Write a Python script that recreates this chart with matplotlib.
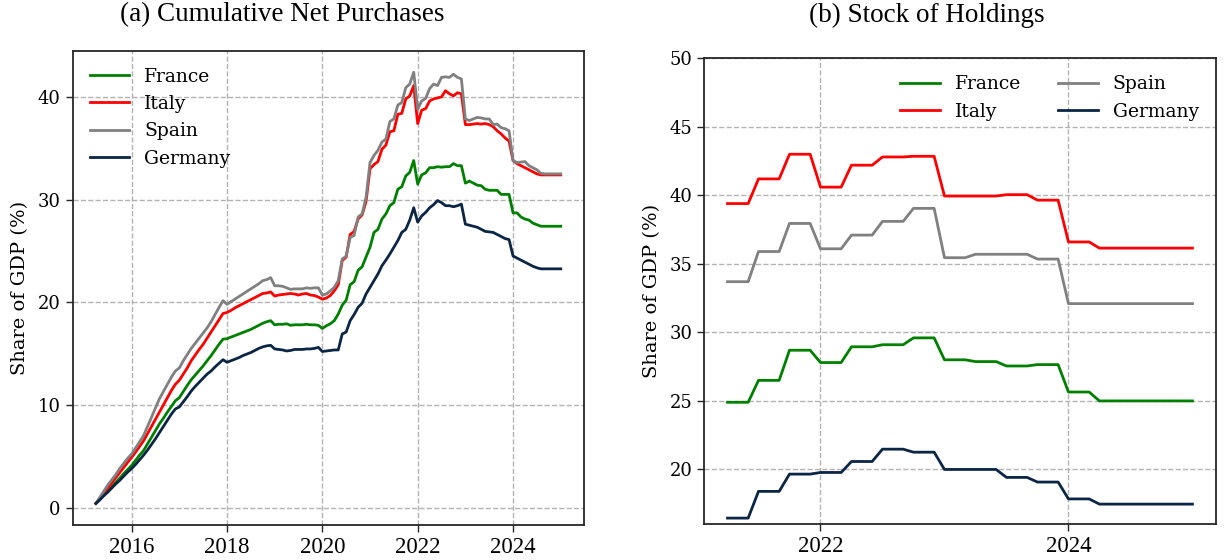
import numpy as np
import matplotlib
matplotlib.use("Agg")
import matplotlib.pyplot as plt

plt.rcParams["font.family"] = ["DejaVu Serif"]

# ---------------- Panel (a): cumulative net purchases, monthly ----------------
months_a_start = 2015.25          # first monthly observation (decimal year)
n_months_a = 118

france_a = [0.4, 0.8, 1.2, 1.6, 2.0, 2.45, 2.85, 3.3, 3.7, 4.1,
            4.6, 5.1, 5.55, 6.2, 6.85, 7.5, 8.15, 8.7, 9.3, 9.85,
            10.4, 10.7, 11.3, 11.9, 12.45, 12.9, 13.35, 13.8, 14.3, 14.8,
            15.35, 15.9, 16.4, 16.45, 16.6, 16.75, 16.9, 17.05, 17.2, 17.35,
            17.55, 17.75, 17.95, 18.1, 18.2, 17.8, 17.85, 17.85, 17.9, 17.75,
            17.8, 17.8, 17.8, 17.85, 17.8, 17.8, 17.75, 17.45, 17.7, 17.9,
            18.2, 18.85, 19.7, 20.2, 21.7, 22.0, 23.1, 23.45, 24.4, 25.35,
            26.8, 27.1, 28.1, 28.6, 29.4, 29.7, 31.0, 31.25, 32.3, 32.65,
            33.8, 31.5, 32.4, 32.6, 33.1, 33.1, 33.2, 33.15, 33.2, 33.2,
            33.5, 33.3, 33.3, 31.6, 31.8, 31.6, 31.4, 31.35, 31.0, 30.9,
            30.9, 30.9, 30.5, 30.5, 30.5, 28.7, 28.7, 28.3, 28.1, 28.0,
            27.7, 27.55, 27.4, 27.4, 27.4, 27.4, 27.4, 27.4]

italy_a = [0.4, 0.9, 1.4, 1.9, 2.4, 2.9, 3.4, 3.9, 4.4, 4.9,
           5.4, 5.95, 6.5, 7.2, 7.9, 8.6, 9.3, 10.0, 10.7, 11.4,
           12.0, 12.4, 13.0, 13.6, 14.3, 14.85, 15.4, 15.9, 16.5, 17.1,
           17.7, 18.3, 18.9, 19.0, 19.2, 19.45, 19.65, 19.85, 20.05, 20.25,
           20.45, 20.65, 20.85, 20.9, 21.0, 20.6, 20.7, 20.75, 20.8, 20.85,
           20.8, 20.7, 20.8, 20.85, 20.7, 20.65, 20.5, 20.3, 20.4, 20.65,
           21.1, 21.7, 24.05, 24.4, 26.6, 26.9, 28.1, 28.5, 29.8, 33.0,
           33.4, 33.7, 34.9, 35.3, 36.6, 36.7, 38.3, 38.4, 39.8, 40.1,
           41.1, 37.4, 38.7, 38.85, 39.6, 39.8, 39.9, 40.0, 40.6, 40.3,
           40.1, 40.4, 40.3, 37.3, 37.3, 37.35, 37.4, 37.35, 37.4, 37.3,
           37.1, 36.7, 36.4, 36.0, 35.7, 33.8, 33.5, 33.3, 33.1, 32.9,
           32.7, 32.5, 32.4, 32.4, 32.4, 32.4, 32.4, 32.4]

spain_a = [0.4, 1.0, 1.6, 2.2, 2.7, 3.2, 3.8, 4.3, 4.8, 5.2,
           5.8, 6.4, 7.0, 7.9, 8.8, 9.7, 10.6, 11.3, 12.0, 12.7,
           13.3, 13.6, 14.3, 14.9, 15.5, 16.0, 16.5, 17.0, 17.5, 18.1,
           18.8, 19.5, 20.15, 19.8, 20.05, 20.3, 20.55, 20.8, 21.05, 21.3,
           21.55, 21.8, 22.1, 22.2, 22.4, 21.6, 21.6, 21.55, 21.4, 21.25,
           21.3, 21.3, 21.3, 21.4, 21.35, 21.4, 21.4, 20.7, 20.8, 21.1,
           21.45, 22.1, 24.2, 24.5, 26.3, 26.5, 28.3, 28.6, 30.2, 33.6,
           34.3, 34.8, 35.6, 35.9, 37.6, 37.85, 39.2, 39.45, 40.9, 41.25,
           42.4, 38.8, 39.6, 39.85, 40.8, 41.25, 41.1, 41.9, 41.95, 41.9,
           42.2, 41.9, 41.75, 37.85, 37.7, 37.85, 38.0, 37.95, 37.85, 37.85,
           37.3, 37.35, 37.0, 36.9, 36.7, 33.8, 33.6, 33.65, 33.7, 33.3,
           33.1, 32.9, 32.55, 32.5, 32.5, 32.5, 32.5, 32.5]

germany_a = [0.4, 0.75, 1.15, 1.5, 1.9, 2.3, 2.65, 3.05, 3.45, 3.8,
             4.2, 4.65, 5.1, 5.6, 6.15, 6.7, 7.3, 7.9, 8.5, 9.1,
             9.6, 9.8, 10.3, 10.8, 11.35, 11.8, 12.2, 12.6, 13.0, 13.3,
             13.7, 14.05, 14.4, 14.15, 14.3, 14.45, 14.6, 14.8, 14.95, 15.1,
             15.3, 15.5, 15.65, 15.75, 15.8, 15.45, 15.4, 15.35, 15.25, 15.3,
             15.4, 15.4, 15.4, 15.45, 15.45, 15.5, 15.6, 15.2, 15.25, 15.3,
             15.35, 15.35, 16.9, 17.1, 18.2, 18.8, 19.5, 19.9, 20.8, 21.45,
             22.1, 22.75, 23.55, 24.1, 24.7, 25.35, 26.0, 26.8, 27.1, 28.0,
             29.2, 27.8, 28.4, 28.75, 29.2, 29.5, 29.9, 29.7, 29.4, 29.4,
             29.3, 29.4, 29.55, 27.6, 27.5, 27.4, 27.3, 27.1, 26.9, 26.85,
             26.8, 26.6, 26.4, 26.2, 26.1, 24.5, 24.3, 24.1, 23.9, 23.7,
             23.5, 23.35, 23.25, 23.25, 23.25, 23.25, 23.25, 23.25]

# ---------------- Panel (b): stock of holdings, monthly ----------------
months_b_start = 2021.25
n_months_b = 46

france_b = [24.9, 24.9, 24.9, 26.5, 26.5, 26.5, 28.7, 28.7, 28.7, 27.8,
            27.8, 27.8, 28.95, 28.95, 28.95, 29.1, 29.1, 29.1, 29.6, 29.6,
            29.6, 28.0, 28.0, 28.0, 27.87, 27.87, 27.87, 27.55, 27.55, 27.55,
            27.65, 27.65, 27.65, 25.65, 25.65, 25.65, 25.0, 25.0, 25.0, 25.0,
            25.0, 25.0, 25.0, 25.0, 25.0, 25.0]

italy_b = [39.4, 39.4, 39.4, 41.2, 41.2, 41.2, 43.0, 43.0, 43.0, 40.6,
           40.6, 40.6, 42.2, 42.2, 42.2, 42.8, 42.8, 42.8, 42.85, 42.85,
           42.85, 39.95, 39.95, 39.95, 39.95, 39.95, 39.95, 40.05, 40.05, 40.05,
           39.65, 39.65, 39.65, 36.6, 36.6, 36.6, 36.15, 36.15, 36.15, 36.15,
           36.15, 36.15, 36.15, 36.15, 36.15, 36.15]

spain_b = [33.7, 33.7, 33.7, 35.9, 35.9, 35.9, 37.95, 37.95, 37.95, 36.1,
           36.1, 36.1, 37.1, 37.1, 37.1, 38.1, 38.1, 38.1, 39.05, 39.05,
           39.05, 35.45, 35.45, 35.45, 35.7, 35.7, 35.7, 35.7, 35.7, 35.7,
           35.35, 35.35, 35.35, 32.1, 32.1, 32.1, 32.1, 32.1, 32.1, 32.1,
           32.1, 32.1, 32.1, 32.1, 32.1, 32.1]

germany_b = [16.45, 16.45, 16.45, 18.4, 18.4, 18.4, 19.66, 19.66, 19.66, 19.78,
             19.78, 19.78, 20.58, 20.58, 20.58, 21.48, 21.48, 21.48, 21.26, 21.26,
             21.26, 20.0, 20.0, 20.0, 20.0, 20.0, 20.0, 19.42, 19.42, 19.42,
             19.08, 19.08, 19.08, 17.85, 17.85, 17.85, 17.47, 17.47, 17.47, 17.47,
             17.47, 17.47, 17.47, 17.47, 17.47, 17.47]

countries = ["France", "Italy", "Spain", "Germany"]
colors = {"France": "#008000", "Italy": "#ff0000",
          "Spain": "#808080", "Germany": "#0b2545"}

years_a = months_a_start + np.arange(n_months_a) / 12.0
years_b = months_b_start + np.arange(n_months_b) / 12.0
series_a = dict(zip(countries, [france_a, italy_a, spain_a, germany_a]))
series_b = dict(zip(countries, [france_b, italy_b, spain_b, germany_b]))

xticks_a = [2016, 2018, 2020, 2022, 2024]
xticks_b = [2022, 2024]
yticks_a = [0, 10, 20, 30, 40]
yticks_b = [20, 25, 30, 35, 40, 45, 50]

fig = plt.figure(figsize=(12.25, 5.6), dpi=100)
ax1 = fig.add_axes([0.0593, 0.0625, 0.4174, 0.8470])
ax2 = fig.add_axes([0.5749, 0.0638, 0.4175, 0.8321])

for name in countries:
    ax1.plot(years_a, series_a[name], color=colors[name], lw=2.0, label=name)
    ax2.plot(years_b, series_b[name], color=colors[name], lw=2.0, label=name)

ax1.set_xticks(xticks_a)
ax1.set_yticks(yticks_a)
ax2.set_xticks(xticks_b)
ax2.set_yticks(yticks_b)
ax2.set_ylim(16, 50)

for ax in (ax1, ax2):
    ax.grid(True, linestyle="--", color="#b3b3b3", lw=1.0)
    ax.set_axisbelow(True)
    for sp in ax.spines.values():
        sp.set_color("#262626")
        sp.set_linewidth(1.3)
    ax.tick_params(axis="both", direction="out", length=5, width=1.0,
                   color="#262626")
    ax.tick_params(axis="y", labelsize=13)
    for lab in ax.get_xticklabels():
        lab.set_fontfamily("Liberation Serif")
        lab.set_fontsize(16.5)
    ax.set_ylabel("Share of GDP (%)", fontsize=14, labelpad=6)

ax1.legend(loc="upper left", frameon=False, fontsize=13.5,
           handlelength=2.1)
ax2.legend(loc="upper right", frameon=False, fontsize=13.5, ncol=2,
           handlelength=2.1, columnspacing=2.0)

fig.text(282 / 1225, 1 - 15 / 560, "(a) Cumulative Net Purchases",
         ha="center", va="center", fontfamily="Liberation Serif", fontsize=19.5)
fig.text(927 / 1225, 1 - 15 / 560, "(b) Stock of Holdings",
         ha="center", va="center", fontfamily="Liberation Serif", fontsize=19.5)

fig.savefig("out.png", dpi=100)
